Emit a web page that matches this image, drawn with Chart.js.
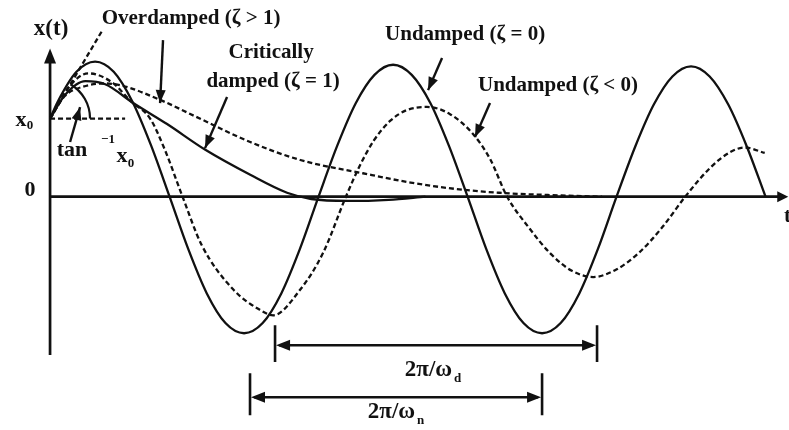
<!DOCTYPE html>
<html>
<head>
<meta charset="utf-8">
<script src="https://cdn.jsdelivr.net/npm/chart.js@4/dist/chart.umd.min.js"></script>
<style>
  html, body { margin: 0; padding: 0; background: #fff; }
  canvas { display: block; }
</style>
</head>
<body>
<canvas id="c" width="789" height="430"></canvas>
<script>
// Free response x(t) of a single-degree-of-freedom system, in units of x0.
// Time is in arbitrary units along the t axis.

// Undamped (zeta = 0)
const undampedT = [0, 0.106, 0.359, 0.612, 0.865, 1.118, 1.371, 1.624, 1.877, 2.130, 2.383, 2.636, 2.889, 3.142, 3.395, 3.648, 3.901, 4.155, 4.408, 4.661, 4.914, 5.167, 5.420, 5.673, 5.926, 6.179, 6.432, 6.685, 6.938, 7.191, 7.444, 7.697, 7.950, 8.203, 8.456, 8.709, 8.962, 9.215, 9.468, 9.721];
const undampedX = [1.00, 1.22, 1.60, 1.73, 1.60, 1.22, 0.66, 0, -0.67, -1.24, -1.62, -1.75, -1.62, -1.24, -0.67, 0, 0.65, 1.20, 1.56, 1.69, 1.56, 1.20, 0.65, 0, -0.67, -1.24, -1.62, -1.75, -1.62, -1.24, -0.67, 0, 0.64, 1.18, 1.54, 1.67, 1.54, 1.18, 0.64, 0];

// Decaying oscillation (labelled "Undamped (zeta < 0)")
const underT = [0, 0.25, 0.52, 0.85, 1.10, 1.36, 1.56, 1.80, 2.06, 2.49, 2.85, 3.03, 3.40, 3.71, 4.02, 4.20, 4.40, 4.62, 4.85, 5.12, 5.43, 5.75, 5.98, 6.21, 6.50, 6.80, 7.09, 7.38, 7.70, 8.00, 8.32, 8.63, 8.97, 9.24, 9.44, 9.71];
const underX = [1.00, 1.40, 1.58, 1.46, 1.22, 1.00, 0.60, 0, -0.62, -1.19, -1.45, -1.52, -1.19, -0.72, 0, 0.38, 0.72, 0.97, 1.11, 1.15, 1.06, 0.80, 0.48, 0, -0.39, -0.73, -0.95, -1.03, -0.93, -0.72, -0.39, 0, 0.37, 0.57, 0.63, 0.56];

// Critically damped (zeta = 1)
const critT = [0, 0.20, 0.48, 0.75, 1.13, 1.59, 2.11, 2.72, 3.22, 3.55, 4.05, 4.60, 5.10];
const critX = [1.00, 1.30, 1.48, 1.44, 1.20, 0.93, 0.60, 0.28, 0.05, -0.03, -0.055, -0.04, 0];

// Overdamped (zeta > 1)
const overT = [0, 0.20, 0.45, 0.75, 0.95, 1.52, 1.97, 2.72, 3.40, 4.25, 4.90, 5.50, 6.10, 6.80, 7.50];
const overX = [1.00, 1.29, 1.41, 1.45, 1.43, 1.23, 1.03, 0.70, 0.47, 0.30, 0.18, 0.10, 0.05, 0.02, 0];

// Initial-slope line and x0 reference level
const slopeT = [0, 0.71];
const slopeX = [1, 2.13];
const x0LevelT = [0, 1.02];
const x0LevelX = [1, 1];

// Axis extents
const tAxisEnd = 10.03;
const xAxisRange = [-2.03, 1.90];

// Period markers: [start, end] in t
const periodD = [3.057, 7.432];
const periodN = [2.717, 6.685];

const ink = '#111';
const serif = '"Liberation Serif", "Times New Roman", serif';

const pts = (ts, xs) => ts.map((t, i) => ({ x: t, y: xs[i] }));

function curve(ts, xs, dashed, extra) {
  return Object.assign({
    data: pts(ts, xs),
    borderColor: ink,
    borderWidth: 2.3,
    borderDash: dashed ? [5, 3] : [],
    fill: false,
    pointRadius: 0,
    cubicInterpolationMode: 'monotone',
    clip: false
  }, extra || {});
}

function arrowHead(ctx, x1, y1, x2, y2, len, wid) {
  const a = Math.atan2(y2 - y1, x2 - x1);
  const c = Math.cos(a), s = Math.sin(a);
  ctx.beginPath();
  ctx.moveTo(x2, y2);
  ctx.lineTo(x2 - len * c + wid / 2 * s, y2 - len * s - wid / 2 * c);
  ctx.lineTo(x2 - len * c - wid / 2 * s, y2 - len * s + wid / 2 * c);
  ctx.closePath();
  ctx.fill();
}

function arrow(ctx, x1, y1, x2, y2) {
  ctx.setLineDash([]);
  ctx.lineWidth = 2.4;
  ctx.beginPath();
  ctx.moveTo(x1, y1);
  ctx.lineTo(x2, y2);
  ctx.stroke();
  arrowHead(ctx, x1, y1, x2, y2, 13, 10);
}

// Labels: text, t, x, font size; subscripts/superscripts placed separately
const labelItems = [
  { text: 'x(t)', t: 0.014, v: 2.147, size: 23 },
  { text: 'x', t: -0.394, v: 0.981, size: 22 },
  { text: '0', t: -0.272, v: 0.904, size: 13 },
  { text: '0', t: -0.272, v: 0.083, size: 22 },
  { text: 't', t: 10.02, v: -0.25, size: 21 },
  { text: 'Overdamped (ζ > 1)', t: 1.916, v: 2.276, size: 21 },
  { text: 'Critically', t: 3.003, v: 1.840, size: 21 },
  { text: 'damped (ζ = 1)', t: 3.030, v: 1.481, size: 21 },
  { text: 'Undamped (ζ = 0)', t: 5.639, v: 2.071, size: 21 },
  { text: 'Undamped (ζ < 0)', t: 6.902, v: 1.417, size: 21 },
  { text: 'tan', t: 0.299, v: 0.596, size: 22 },
  { text: '−1', t: 0.788, v: 0.735, size: 13 },
  { text: 'x', t: 0.978, v: 0.519, size: 22 },
  { text: '0', t: 1.10, v: 0.429, size: 13 }
];

// Pointer arrows: [tStart, xStart, tEnd, xEnd]
const pointers = [
  [1.535, 2.006, 1.495, 1.199],
  [2.405, 1.276, 2.106, 0.622],
  [5.326, 1.776, 5.136, 1.365],
  [5.978, 1.199, 5.774, 0.763],
  [0.272, 0.700, 0.408, 1.147]
];

const figurePlugin = {
  id: 'figure',
  beforeDatasetsDraw(chart) {
    const { ctx, scales: { x, y } } = chart;
    const px = t => x.getPixelForValue(t);
    const py = v => y.getPixelForValue(v);
    ctx.save();
    ctx.strokeStyle = ink;
    ctx.fillStyle = ink;
    ctx.lineWidth = 2.7;
    ctx.lineCap = 'butt';
    // vertical axis
    ctx.beginPath();
    ctx.moveTo(px(0), py(xAxisRange[0]));
    ctx.lineTo(px(0), py(xAxisRange[1]) + 10);
    ctx.stroke();
    arrowHead(ctx, px(0), py(0), px(0), py(xAxisRange[1]), 15, 12);
    // horizontal axis
    ctx.beginPath();
    ctx.moveTo(px(0), py(0));
    ctx.lineTo(px(tAxisEnd) - 8, py(0));
    ctx.stroke();
    arrowHead(ctx, px(0), py(0), px(tAxisEnd), py(0), 11, 11);
    ctx.restore();
  },
  afterDatasetsDraw(chart) {
    const { ctx, scales: { x, y } } = chart;
    const px = t => x.getPixelForValue(t);
    const py = v => y.getPixelForValue(v);
    ctx.save();
    ctx.strokeStyle = ink;
    ctx.fillStyle = ink;

    // angle arc at the start point
    const ang = Math.atan2(py(slopeX[1]) - py(slopeX[0]), px(slopeT[1]) - px(slopeT[0]));
    ctx.lineWidth = 2.2;
    ctx.beginPath();
    ctx.arc(px(0), py(1), 40, ang, 0);
    ctx.stroke();

    // pointer arrows
    pointers.forEach(p => arrow(ctx, px(p[0]), py(p[1]), px(p[2]), py(p[3])));

    // period dimension lines
    const dim = (range, vLine, vTop, vBot) => {
      const a = px(range[0]), b = px(range[1]), yy = py(vLine);
      ctx.lineWidth = 2.6;
      ctx.beginPath();
      ctx.moveTo(a + 4, yy); ctx.lineTo(b - 4, yy);
      ctx.moveTo(a, py(vTop)); ctx.lineTo(a, py(vBot));
      ctx.moveTo(b, py(vTop)); ctx.lineTo(b, py(vBot));
      ctx.stroke();
      arrowHead(ctx, b, yy, a + 1, yy, 14, 11);
      arrowHead(ctx, a, yy, b - 1, yy, 14, 11);
    };
    dim(periodD, -1.904, -1.647, -2.12);
    dim(periodN, -2.571, -2.263, -2.80);

    // text
    ctx.textAlign = 'center';
    ctx.textBaseline = 'middle';
    labelItems.forEach(l => {
      ctx.font = 'bold ' + l.size + 'px ' + serif;
      ctx.fillText(l.text, px(l.t), py(l.v));
    });

    const withSub = (main, sub, t, v, size) => {
      ctx.font = 'bold ' + size + 'px ' + serif;
      const w1 = ctx.measureText(main).width;
      ctx.font = 'bold ' + Math.round(size * 0.55) + 'px ' + serif;
      const w2 = ctx.measureText(sub).width;
      const left = px(t) - (w1 + w2 + 2) / 2;
      ctx.textAlign = 'left';
      ctx.font = 'bold ' + size + 'px ' + serif;
      ctx.fillText(main, left, py(v));
      ctx.font = 'bold ' + Math.round(size * 0.55) + 'px ' + serif;
      ctx.fillText(sub, left + w1 + 2, py(v) + size * 0.38);
    };
    withSub('2π/ω', 'd', 5.204, -2.224, 23);
    withSub('2π/ω', 'n', 4.701, -2.763, 23);
    ctx.restore();
  }
};

new Chart(document.getElementById('c'), {
  type: 'line',
  data: {
    datasets: [
      curve(overT, overX, true),
      curve(critT, critX, false),
      curve(underT, underX, true),
      curve(undampedT, undampedX, false),
      curve(slopeT, slopeX, true, { cubicInterpolationMode: 'default', tension: 0 }),
      curve(x0LevelT, x0LevelX, true, { cubicInterpolationMode: 'default', tension: 0, borderDash: [5, 3] })
    ]
  },
  options: {
    responsive: false,
    animation: false,
    devicePixelRatio: 1,
    events: [],
    layout: { padding: 0 },
    plugins: { legend: { display: false }, tooltip: { enabled: false }, title: { display: false } },
    scales: {
      x: { type: 'linear', min: -0.68, max: 10.04, display: false },
      y: { type: 'linear', min: -2.99, max: 2.52, display: false }
    }
  },
  plugins: [figurePlugin]
});
</script>
</body>
</html>
